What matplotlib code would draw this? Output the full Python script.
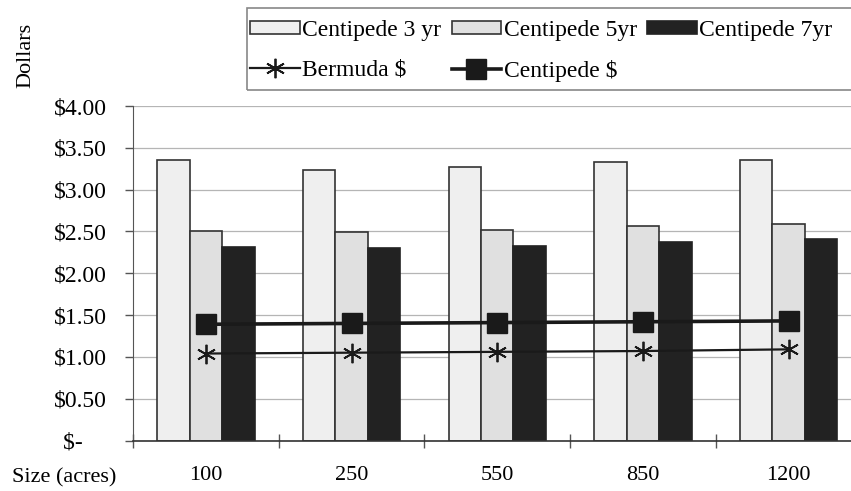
import numpy as np
import matplotlib
matplotlib.use('Agg')
import matplotlib.pyplot as plt
from matplotlib.patches import Rectangle
from matplotlib.lines import Line2D
from matplotlib.ticker import FixedLocator

matplotlib.rcParams['font.family'] = ['Liberation Serif', 'DejaVu Serif']
matplotlib.rcParams['font.size'] = 16
matplotlib.rcParams['text.parse_math'] = False

sizes = ['100', '250', '550', '850', '1200']
centipede_3yr = [3.35, 3.23, 3.27, 3.33, 3.36]
centipede_5yr = [2.51, 2.49, 2.52, 2.57, 2.59]
centipede_7yr = [2.31, 2.30, 2.33, 2.37, 2.41]
centipede_cost = [1.39, 1.40, 1.41, 1.42, 1.43]
bermuda_cost = [1.04, 1.05, 1.06, 1.07, 1.09]
yticks = [0, 0.5, 1.0, 1.5, 2.0, 2.5, 3.0, 3.5, 4.0]
ylabels = ['$-    ', '$0.50', '$1.00', '$1.50', '$2.00', '$2.50',
           '$3.00', '$3.50', '$4.00']

W, H = 851, 491
fig = plt.figure(figsize=(W/100, H/100), dpi=100)
ax = fig.add_axes([133/W, 1-440.5/H, 728.5/W, 334.5/H])

x = np.arange(len(sizes))
bw = 0.223
edge = '#333333'
ax.bar(x-bw, centipede_3yr, bw, color='#efefef', edgecolor=edge, lw=1.2, zorder=2)
ax.bar(x, centipede_5yr, bw, color='#e0e0e0', edgecolor=edge, lw=1.2, zorder=2)
ax.bar(x+bw, centipede_7yr, bw, color='#222222', edgecolor='#222222', lw=1.2, zorder=2)

ax.plot(x, centipede_cost, color='#1a1a1a', lw=2.6, marker='s', ms=14,
        mfc='#1a1a1a', mec='#1a1a1a', zorder=4)
ax.plot(x, bermuda_cost, color='#1a1a1a', lw=1.6, marker=(6, 2, 0), ms=14,
        mew=1.3, mec='#1a1a1a', zorder=4)

ax.set_xlim(-0.5, len(sizes)-0.5)
ax.set_ylim(0, 4)
ax.set_yticks(yticks)
ax.set_yticklabels(ylabels, fontsize=17)
ax.set_xticks(x)
ax.set_xticklabels(sizes)
ax.xaxis.set_minor_locator(FixedLocator(np.arange(-0.5, len(sizes), 1.0)))
ax.tick_params(axis='x', which='major', length=0, pad=18.5)
ax.tick_params(axis='x', which='minor', length=10, direction='inout',
               width=1, color='#555555')
ax.tick_params(axis='y', length=5.5, width=1, pad=13.5, color='#555555')

ax.grid(axis='y', color='#b5b5b5', lw=0.9, zorder=0)
ax.set_axisbelow(True)
for s in ['top', 'right']:
    ax.spines[s].set_visible(False)
ax.spines['left'].set_color('#555555')
ax.spines['bottom'].set_color('#333333')
ax.spines['bottom'].set_linewidth(1.2)

fig.text(12/W, 1-482/H, 'Size (acres)', ha='left', va='baseline')
fig.text(26/W, 1-55/H, 'Dollars', rotation=90, ha='center', va='center')

# legend box
fig.patches.append(Rectangle((247/W, 1-90/H), 620/W, 82/H,
                             transform=fig.transFigure, fill=False,
                             edgecolor='#888888', lw=1.2))

handles = [
    Rectangle((0, 0), 1, 1, fc='#efefef', ec=edge, lw=1.2),
    Line2D([], [], color='#1a1a1a', lw=1.6, marker=(6, 2, 0), ms=14, mew=1.3),
    Rectangle((0, 0), 1, 1, fc='#e0e0e0', ec=edge, lw=1.2),
    Line2D([], [], color='#1a1a1a', lw=2.6, marker='s', ms=14),
    Rectangle((0, 0), 1, 1, fc='#222222', ec='#222222', lw=1.2),
]
labels = ['Centipede 3 yr', 'Bermuda $', 'Centipede 5yr', 'Centipede $',
          'Centipede 7yr']
fig.legend(handles, labels, loc='upper left', bbox_to_anchor=(250/W, 1-20/H),
           ncol=3, frameon=False, borderpad=0, borderaxespad=0,
           handlelength=2.1, handleheight=0.5, handletextpad=0.1,
           columnspacing=0.45, labelspacing=0.8, fontsize=17)

fig.savefig('out.png', dpi=100)
